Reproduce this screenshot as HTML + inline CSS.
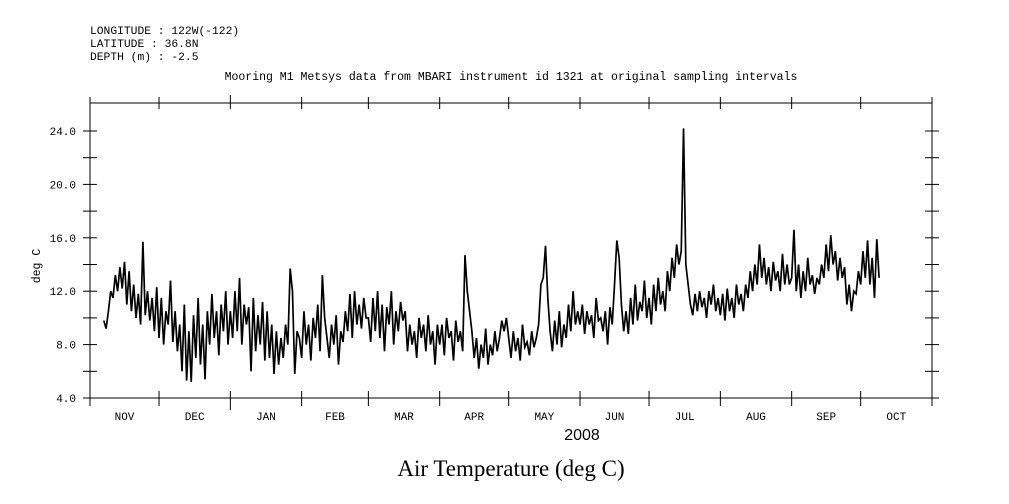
<!DOCTYPE html>
<html><head><meta charset="utf-8">
<style>
body{margin:0;background:#fff;}
svg{display:block;font-family:"Liberation Sans",sans-serif;}
.mono{font-family:"Liberation Mono",monospace;}
</style></head>
<body>
<svg id="chart" width="1009" height="504" viewBox="0 0 1009 504">
  <g font-size="11.3" fill="#000" class="mono">
    <text x="90" y="34">LONGITUDE : 122W(-122)</text>
    <text x="90" y="47">LATITUDE : 36.8N</text>
    <text x="90" y="60">DEPTH (m) : -2.5</text>
  </g>
  <text x="511" y="80" text-anchor="middle" font-size="11.5" class="mono">Mooring M1 Metsys data from MBARI instrument id 1321 at original sampling intervals</text>
  <rect x="90" y="103" width="842" height="295" fill="none" stroke="#000" stroke-width="1"/>
  <g id="axes"></g>
  <path id="series" fill="none" stroke="#000" stroke-width="1.7" stroke-linejoin="miter"/>
  <text x="40" y="266" text-anchor="middle" font-size="11.5" class="mono" transform="rotate(-90 40 266)">deg C</text>
  <text x="582" y="440" text-anchor="middle" font-size="16">2008</text>
  <text x="511" y="476" text-anchor="middle" font-size="23" font-family="'Liberation Serif',serif">Air Temperature (deg C)</text>
</svg>
<script>
const monthLabels = ["NOV","DEC","JAN","FEB","MAR","APR","MAY","JUN","JUL","AUG","SEP","OCT"];
const monthStarts = [0,30,61,92,121,152,182,213,243,274,305,335,366];
const yTicks = [4,6,8,10,12,14,16,18,20,22,24];
const yLabels = [4,8,12,16,20,24];
const startDay = 6;
const nov = [9.8,9.2,10.5,12.0,11.5,13.2,12.0,13.8,12.2,14.2,11.0,13.5,10.5,12.5,10.0,11.8,9.5,15.7,10.2,12.0,9.8,11.5,9.0,12.3];
const dec = [8.5,11.5,8.0,10.5,9.5,12.8,8.2,10.5,7.5,9.5,6.0,11.0,5.3,9.0,5.2,10.2,7.0,11.5,6.5,9.5,5.4,10.5,8.0,11.8,8.5,10.5,7.2,11.0,9.0,12.0,8.0];
const jan = [10.5,8.5,12.0,9.0,13.0,8.0,11.0,9.5,10.8,6.0,11.5,7.5,10.2,8.0,11.2,6.8,10.5,7.0,9.5,5.8,9.0,6.5,8.5,7.0,9.5,8.0,13.7,12.0,5.8,9.0,8.5];
const feb = [7.0,10.5,8.0,9.5,6.8,10.0,8.5,11.0,7.5,13.2,10.0,8.5,7.0,9.5,8.0,10.2,6.5,9.0,8.2,10.5,9.0,11.8,8.5,12.0,9.5,11.0,9.2,11.5,10.0];
const mar = [10.0,8.2,11.5,9.0,12.0,8.5,11.0,7.5,10.8,9.5,12.0,8.0,10.5,9.0,11.2,9.8,10.5,7.5,9.5,8.0,9.0,7.0,10.0,8.5,9.5,7.5,10.2,8.0,9.0,6.5,9.5];
const apr = [8.0,9.5,7.2,10.0,8.5,9.0,6.8,9.8,8.2,9.0,7.5,14.7,12.0,10.5,9.0,7.0,8.5,6.2,8.0,7.0,9.2,6.5,8.0,7.2,9.0,7.5,8.5,9.8,9.0,10.0];
const may = [8.5,7.0,9.0,7.5,8.5,6.8,9.5,7.8,8.2,7.2,9.0,7.8,8.5,9.5,12.5,13.0,15.4,11.5,9.0,7.5,9.8,8.0,10.5,7.8,9.5,8.5,11.0,9.0,12.0,9.5,10.5];
const jun = [9.5,11.0,8.8,10.5,9.5,10.2,8.5,11.5,9.8,10.0,9.0,10.5,8.0,10.8,9.5,12.5,15.8,14.5,11.0,9.0,10.5,8.8,11.5,9.5,12.5,9.8,11.2,10.5,12.8,10.0];
const jul = [11.5,9.5,12.5,10.5,13.0,11.0,12.0,10.5,13.5,12.0,14.5,13.0,15.5,14.0,15.0,24.2,14.0,12.5,11.0,10.2,11.8,10.5,12.0,10.8,11.5,10.0,12.0,11.0,12.5,10.5,11.5];
const aug = [10.2,11.8,9.8,12.2,10.5,11.5,10.0,12.5,11.0,11.8,10.5,12.5,11.5,13.5,12.0,14.0,12.5,15.5,13.0,14.5,12.5,13.8,12.0,14.2,12.8,13.5,12.0,14.8,12.5,14.0,12.5];
const sep = [13.0,16.6,12.0,14.0,11.5,13.5,12.0,14.5,12.5,13.2,11.8,13.0,12.5,14.0,13.0,15.5,13.5,16.2,14.0,15.0,12.8,14.5,13.0,13.8,11.0,12.5,10.5,12.0,11.8,13.5];
const oct = [12.5,15.0,13.0,15.8,12.5,14.5,11.5,15.9,13.0];

const X0=90,X1=932,Y0=398,Y1=103;
const xScale = d => X0 + d*(X1-X0)/366;
const yScale = v => Y0 - (v-4)*(398-131)/20;
const NS="http://www.w3.org/2000/svg";
const axes=document.getElementById('axes');
function mk(tag,attrs){const e=document.createElementNS(NS,tag);for(const k in attrs)e.setAttribute(k,attrs[k]);axes.appendChild(e);return e;}

yTicks.forEach(v=>{
  const y=yScale(v);
  const l=mk('line',{x1:X0-7,x2:X0+7,y1:y,y2:y,stroke:'#000'});
  
  
  const r=mk('line',{x1:X1-7,x2:X1+7,y1:y,y2:y,stroke:'#000'});
  
  
});
yLabels.forEach(v=>{
  const t=mk('text',{x:76,y:yScale(v)+4,'text-anchor':'end','font-size':11,'class':'mono'});
  t.textContent=v.toFixed(1);
  
  
});
monthStarts.forEach((d,i)=>{
  const x=xScale(d);
  const big=(d===61);
  const b=mk('line',{x1:x,x2:x,y1:Y0-7,y2:Y0+(big?12:8),stroke:'#000'});
  
  
  const t=mk('line',{x1:x,x2:x,y1:Y1-(big?8:6),y2:Y1+6,stroke:'#000'});
  
  
  if(i<monthLabels.length){
    const lab=mk('text',{x:xScale((d+monthStarts[i+1])/2),y:420,'text-anchor':'middle','font-size':11,'class':'mono'});
    lab.textContent=monthLabels[i];
    
    
  }
});

const values=[].concat(nov,dec,jan,feb,mar,apr,may,jun,jul,aug,sep,oct);
let p='';
values.forEach((v,i)=>{p+=(i?'L':'M')+xScale(startDay+i).toFixed(2)+' '+yScale(v).toFixed(2);});
document.getElementById('series').setAttribute('d',p);
</script>
</body></html>
